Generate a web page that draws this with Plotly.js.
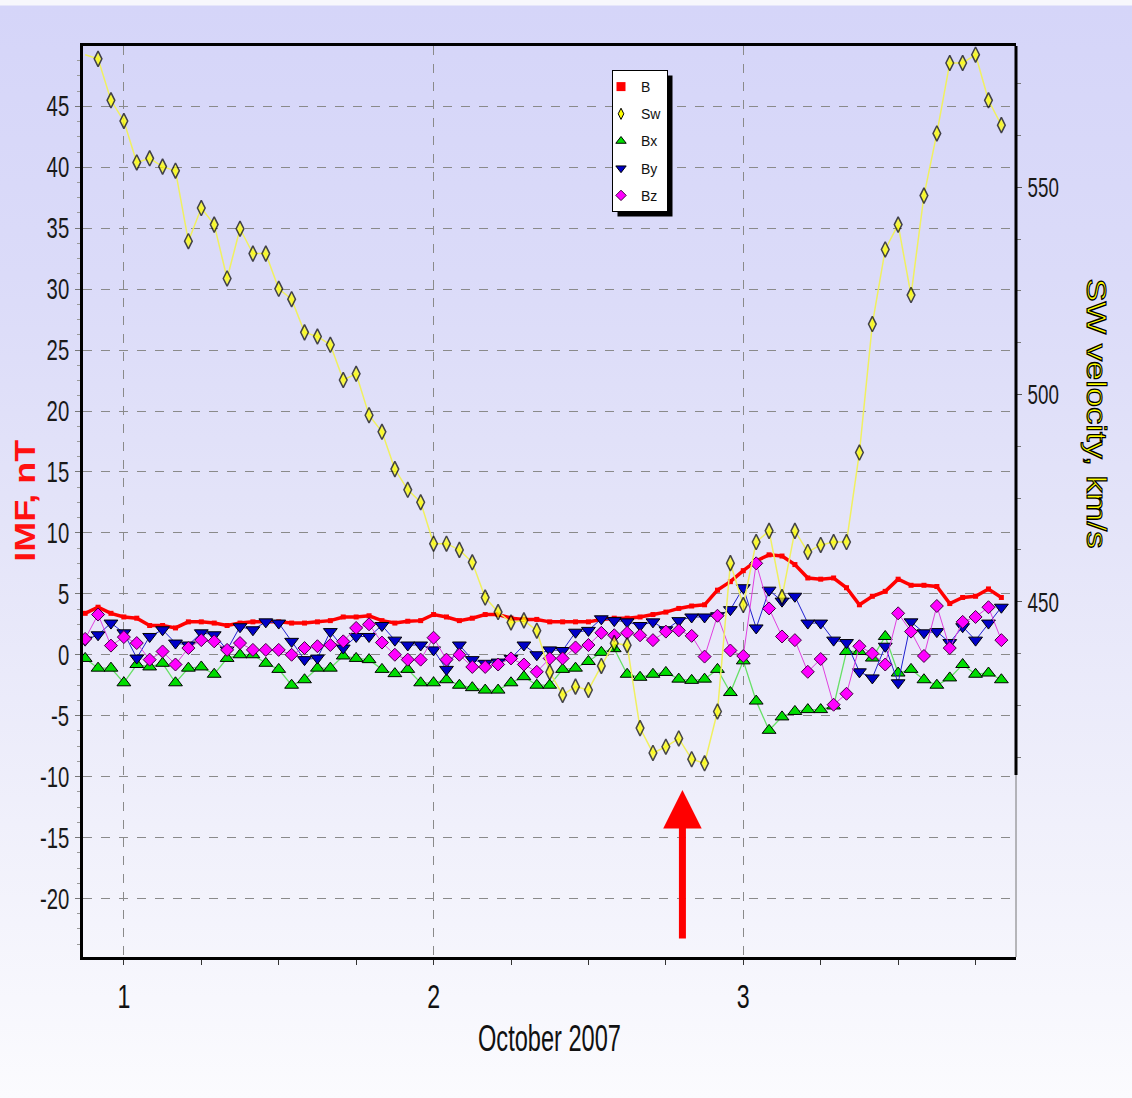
<!DOCTYPE html>
<html><head><meta charset="utf-8">
<script src="https://cdn.plot.ly/plotly-3.0.1.min.js"></script>
<style>
html,body{margin:0;padding:0;}
body{width:1132px;height:1098px;overflow:hidden;
background:linear-gradient(to bottom,#f7f7fc 0px,#f7f7fc 5px,#d5d5f9 6px,#dbdbf9 25%,#e5e5f9 50%,#f0f0fb 75%,#fbfbfe 100%);}
#chart{width:1132px;height:1098px;}
.annotation[data-index="1"] text{stroke:#000;stroke-width:1.1px;}
</style></head><body><div id="chart"></div>
<script>
// hourly samples starting 2007-09-30 21:00 (UT)
const startTime = '2007-09-30 21:00';
const stepMs = 3600000;

const swSpeed = [582,581,571,566,556,557,555,554,537,545,541,528,540,534,534,525.5,523,515,514,512,
  503.5,505,495,491,482,477,474,464,464,462.5,459.5,451,447.5,445,445.5,443,433,427.5,429.5,428.7,
  434.5,440,439.5,419.5,413.5,415,417,412,411,423.5,459.3,449.2,464.4,467.1,451.1,467.1,462,463.7,
  464.4,464.4,486,517,535,541,524,548,563,580,580,582,571,565];

const bTotal = [3.4,3.9,3.4,3.1,3.0,2.4,2.4,2.2,2.7,2.7,2.6,2.4,2.6,2.7,2.7,2.7,2.6,2.6,2.7,2.8,
  3.1,3.1,3.2,2.8,2.6,2.75,2.8,3.3,3.1,2.8,3.0,3.3,3.3,3.0,2.9,2.9,2.7,2.7,2.7,2.7,
  2.9,3.0,3.0,3.1,3.3,3.5,3.8,4.0,4.1,5.3,6.0,6.9,7.7,8.2,8.1,7.4,6.3,6.2,6.3,5.5,
  4.1,4.8,5.2,6.2,5.7,5.7,5.6,4.2,4.7,4.8,5.4,4.7];

const bX = [-0.3,-1.1,-1.1,-2.3,-0.8,-1.0,-0.7,-2.3,-1.1,-1.0,-1.6,-0.3,0,0,-0.7,-1.2,-2.5,-2.05,-1.1,-1.1,
  -0.1,-0.3,-0.4,-1.2,-1.55,-1.2,-2.3,-2.3,-2.05,-2.5,-2.7,-2.9,-2.9,-2.3,-1.8,-2.5,-2.5,-1.2,-1.1,-0.55,
  0.2,0.5,-1.6,-1.85,-1.6,-1.45,-2.0,-2.1,-2.0,-1.2,-3.1,-0.5,-3.8,-6.2,-5.1,-4.65,-4.5,-4.5,-4.2,0.27,
  0.27,-0.27,1.5,-1.5,-1.2,-2.05,-2.5,-1.9,-0.8,-1.6,-1.5,-2.05];

const bY = [1.2,1.64,2.6,1.8,-0.27,1.5,2.05,0.96,0.8,1.8,1.64,0.4,2.3,2.05,2.7,2.6,1.1,-0.4,-0.27,1.9,
  0.55,1.5,1.5,2.4,1.2,0.8,0.8,0.4,-1.2,0.8,-0.4,-0.7,-0.6,-0.3,0.8,0,0.4,0.35,1.85,2.0,
  2.95,2.8,2.7,2.4,2.7,2.05,2.8,3.1,3.1,3.2,3.7,5.5,2.2,5.3,4.4,4.8,2.6,2.6,1.2,1.0,
  -1.4,-1.9,0.7,-2.3,2.7,1.8,1.9,1.0,2.3,1.2,2.6,3.9];

const bZ = [1.3,3.3,0.75,1.45,0.96,-0.4,0.27,-0.8,0.55,1.2,1.1,0.4,0.96,0.4,0.4,0.4,0,0.55,0.7,0.8,
  1.1,2.2,2.5,1.0,0,-0.4,-0.4,1.4,-0.4,0,-1.0,-1.0,-0.8,-0.3,-0.8,-1.4,-0.3,-0.3,0.6,0.8,
  1.8,1.6,1.8,1.6,1.2,1.9,2.0,1.55,-0.15,3.2,0.35,-0.1,7.5,3.8,1.5,1.2,-1.4,-0.35,-4.1,-3.2,
  0.7,0.1,-0.8,3.4,1.9,-0.1,4.0,0.55,2.7,3.1,3.9,1.2];

const seriesNames = ['B','Sw','Bx','By','Bz'];
const xTickLabelsFormat = '%-d';
const xTitle = 'October 2007';
const leftTitle = 'IMF, nT';
const rightTitle = 'SW velocity, km/s';
const leftTickVals = [-20,-15,-10,-5,0,5,10,15,20,25,30,35,40,45];
const leftTickText = ['-20','-15','-10','-5','0','5','10','15','20','25','30','35','40','45'];
const rightTickVals = [450,500,550];
const rightMinorVals = [412.5,425,437.5,462.5,475,487.5,512.5,525,537.5,562.5,575];

// layout geometry (pixels)
const W=1132,H=1098, L=83, R=1016, T=46, B=957;
const px = x => (x-L)/(R-L);
const py = y => (B-y)/(B-T);
const rightAxisBottomPx = 775;

const FARIAL = '"Liberation Sans",Arial,sans-serif';

const common = {x0:startTime, dx:stepMs, type:'scatter', mode:'lines+markers', showlegend:false, hoverinfo:'skip'};

// the first velocity sample sits on the left frame: its marker is hidden there in the original
const swMarkerSizes = swSpeed.map((v,i)=> i===0 ? 0 : 11);

const traces = [
  Object.assign({}, common, {y:bTotal, name:'B', line:{color:'#ff0000', width:3.5},
     marker:{symbol:'square', size:5, color:'#ff0000'}}),
  Object.assign({}, common, {y:bX, name:'Bx', line:{color:'#66e066', width:1.3},
     marker:{symbol:'triangle-up', size:12, color:'#00dd00', line:{color:'#000', width:1}}}),
  Object.assign({}, common, {y:bY, name:'By', line:{color:'#2020d0', width:1},
     marker:{symbol:'triangle-down', size:12, color:'#0000c8', line:{color:'#000', width:1}}}),
  Object.assign({}, common, {y:bZ, name:'Bz', line:{color:'#e040e0', width:1},
     marker:{symbol:'diamond', size:10, color:'#ff00ff', line:{color:'#400040', width:1}}}),
  Object.assign({}, common, {y:swSpeed, name:'Sw', yaxis:'y2', line:{color:'#f0f060', width:1.5},
     marker:{symbol:'diamond-tall', size:swMarkerSizes, color:'#ffff00', line:{color:'#000', width:1.5}}}),
];

// legend-only entries (markers only, as in the original legend)
const legendStyles = {
  B:{symbol:'square', size:9, color:'#ff0000'},
  Sw:{symbol:'diamond-tall', size:8, color:'#ffff00', line:{color:'#000',width:1}},
  Bx:{symbol:'triangle-up', size:9, color:'#00dd00', line:{color:'#000',width:1}},
  By:{symbol:'triangle-down', size:9, color:'#0000c8', line:{color:'#000',width:1}},
  Bz:{symbol:'diamond', size:8, color:'#ff00ff', line:{color:'#400040',width:1}}
};
seriesNames.forEach((n,i)=>{
  traces.push({type:'scatter', mode:'markers', x:[null], y:[null], name:n, legendgroup:'g'+i,
    showlegend:true, marker:legendStyles[n], hoverinfo:'skip'});
});

const arrowX = '2007-10-02 19:17';
const arrowTipY = -11.1;

const legendLeftPx = 612, legendTopPx = 70, shadowOff = 5;

const layout = {
  width:W, height:H,
  margin:{l:L, r:W-R, t:T, b:H-B, pad:0},
  paper_bgcolor:'rgba(0,0,0,0)', plot_bgcolor:'rgba(0,0,0,0)',
  font:{family:FARIAL, color:'#1a1a1a'},
  showlegend:true,
  legend:{x:px(legendLeftPx), y:py(legendTopPx), xanchor:'left', yanchor:'top',
    bgcolor:'#ffffff', bordercolor:'#000', borderwidth:1, indentation:-12,
    font:{family:FARIAL, size:14, color:'#111'}, tracegroupgap:6, itemwidth:30},
  xaxis:{type:'date', range:['2007-09-30 20:50','2007-10-03 21:08'],
    tick0:'2007-10-01', dtick:86400000, tickformat:xTickLabelsFormat,
    ticks:'outside', ticklen:5, tickcolor:'#333', ticklabelstandoff:2,
    tickfont:{size:34, family:FARIAL, color:'#111'},
    showgrid:true, gridcolor:'#8a8a8a', griddash:'dash', gridwidth:1,
    minor:{dtick:6*3600000, tick0:'2007-10-01', ticks:'outside', ticklen:5, tickcolor:'#333', showgrid:false},
    showline:true, linecolor:'#000', linewidth:3, mirror:true, zeroline:false,
    title:{text:xTitle, font:{size:36, family:FARIAL, color:'#111'}, standoff:13}},
  yaxis:{range:[-24.8,49.95], tickmode:'array', tickvals:leftTickVals, ticktext:leftTickText,
    ticks:'outside', ticklen:5, tickcolor:'#777',
    tickfont:{size:29, family:FARIAL, color:'#1a1a1a'},
    showgrid:true, gridcolor:'#8a8a8a', griddash:'dash', gridwidth:1, zeroline:false,
    minor:{dtick:1.25, tick0:0, ticks:'outside', ticklen:3, tickcolor:'#999', showgrid:false},
    showline:true, linecolor:'#000', linewidth:3},
  yaxis2:{overlaying:'y', side:'right', range:[364.26,584.1], tickmode:'array', tickvals:rightTickVals,
    ticks:'outside', ticklen:5, tickcolor:'#555',
    tickfont:{size:28, family:FARIAL, color:'#1a1a1a'},
    minor:{tickmode:'array', tickvals:rightMinorVals, ticks:'outside', ticklen:4, tickcolor:'#777', showgrid:false},
    showgrid:false, zeroline:false, showline:false},
  shapes:[
    {type:'line', xref:'paper', yref:'paper', x0:1, x1:1, y0:py(rightAxisBottomPx), y1:1, line:{color:'#000', width:3}},
    {type:'line', xref:'paper', yref:'paper', x0:1, x1:1, y0:0, y1:py(rightAxisBottomPx), line:{color:'#777', width:1}},
    {type:'rect', xref:'paper', yref:'paper', layer:'above',
      x0:px(legendLeftPx+shadowOff), x1:px(legendLeftPx+50+shadowOff),
      y0:py(legendTopPx+136+shadowOff), y1:py(legendTopPx+shadowOff),
      fillcolor:'#000', line:{width:0}}
  ],
  annotations:[
    {xref:'paper', yref:'paper', x:px(25), y:py(501), xanchor:'center', yanchor:'middle',
      text:leftTitle, showarrow:false, textangle:-90, font:{size:29, family:FARIAL, color:'#ff1010', weight:'bold'}},
    {xref:'paper', yref:'paper', x:px(1097), y:py(413), xanchor:'center', yanchor:'middle',
      text:rightTitle, showarrow:false, textangle:90, font:{size:28, family:FARIAL, color:'#ffff00'}},
    {xref:'x', yref:'y', x:arrowX, y:arrowTipY, ax:0, ay:150, text:'', showarrow:true,
      arrowhead:2, arrowsize:1.1, arrowwidth:7, arrowcolor:'#ff0000'}
  ]
};

// the original lettering is tall and narrow: squeeze text horizontally (still real text)
function squeeze(root, selector, factor, fixedLen){
  root.querySelectorAll(selector).forEach(t=>{
    const len = t.getComputedTextLength();
    if(len>0){
      t.setAttribute('textLength', (fixedLen || len*factor).toFixed(1));
      t.setAttribute('lengthAdjust','spacingAndGlyphs');
    }
  });
}

Plotly.newPlot('chart', traces, layout, {displayModeBar:false, staticPlot:true}).then(gd=>{
  const bg = gd.querySelector('.legend .bg');
  const r = bg.getBoundingClientRect();
  const c = gd.getBoundingClientRect();
  const lx = r.left - c.left, ty = r.top - c.top;
  return Plotly.relayout(gd, {
    'shapes[2].x0': px(lx+shadowOff), 'shapes[2].x1': px(lx+r.width+shadowOff),
    'shapes[2].y0': py(ty+r.height+shadowOff), 'shapes[2].y1': py(ty+shadowOff)
  });
}).then(()=>{
  const gd = document.getElementById('chart');
  squeeze(gd, '.ytick text', 0.70);
  squeeze(gd, '.y2tick text', 0.67);
  squeeze(gd, '.xtick text', 0.68);
  squeeze(gd, 'text.xtitle', 0, 143);
  squeeze(gd, '.annotation[data-index="0"] text', 0, 122);
  squeeze(gd, '.annotation[data-index="1"] text', 0, 270);
});
</script></body></html>
